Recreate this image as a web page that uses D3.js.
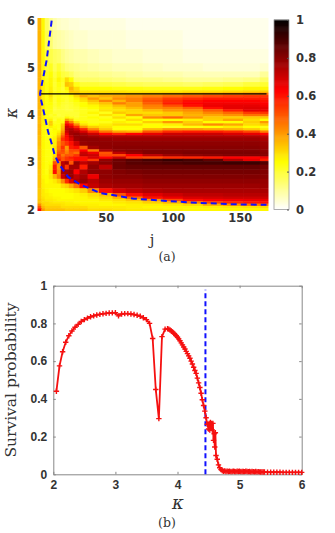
<!DOCTYPE html>
<html>
<head>
<meta charset="utf-8">
<script src="https://cdn.jsdelivr.net/npm/d3@7"></script>
<style>
  html, body { margin: 0; padding: 0; background: #fff; overflow: hidden; }
  svg { display: block; }
</style>
</head>
<body>
<script>
// heat map (a): column and row positions of the table below
var heatJ = [1, 3, 6, 9, 12, 15, 18, 21, 24, 28, 33, 40, 50, 60, 70, 85, 100, 115, 130, 145, 160, 170];
var heatKappa = [6.0, 5.6, 5.2, 5.0, 4.85, 4.75, 4.65, 4.55, 4.5, 4.45, 4.4, 4.35, 4.3, 4.25, 4.2, 4.15, 4.1, 4.05, 4.0,
  3.95, 3.9, 3.85, 3.8, 3.75, 3.7, 3.65, 3.6, 3.55, 3.5, 3.4, 3.3, 3.25, 3.2, 3.15, 3.1, 3.05, 3.0,
  2.9, 2.8, 2.7, 2.6, 2.5, 2.4, 2.3, 2.25, 2.2, 2.15, 2.1, 2.05, 2.0];
// one row per kappa
var heatValues = [
  [.36,.26,.16,.11,.08,.06,.05,.05,.04,.04,.03,.03,.03,.03,.02,.02,.02,.02,.02,.02,.02,.02],
  [.36,.26,.18,.14,.10,.09,.08,.07,.06,.05,.05,.04,.04,.04,.03,.03,.03,.02,.02,.02,.02,.02],
  [.36,.26,.20,.18,.16,.15,.12,.10,.09,.08,.08,.07,.06,.05,.05,.04,.04,.03,.03,.03,.03,.03],
  [.36,.26,.20,.22,.17,.20,.16,.13,.12,.11,.10,.09,.08,.07,.07,.06,.05,.05,.04,.04,.04,.05],
  [.36,.26,.22,.25,.19,.23,.19,.18,.16,.13,.12,.12,.11,.10,.09,.08,.08,.07,.07,.07,.07,.10],
  [.36,.26,.23,.26,.21,.26,.22,.30,.25,.16,.15,.15,.14,.13,.12,.12,.11,.10,.10,.11,.12,.15],
  [.36,.27,.24,.26,.20,.24,.21,.34,.32,.23,.20,.20,.19,.18,.17,.16,.16,.15,.16,.17,.19,.20],
  [.36,.27,.24,.27,.21,.23,.20,.26,.36,.30,.25,.25,.25,.24,.24,.23,.23,.23,.24,.25,.26,.26],
  [.36,.27,.24,.28,.22,.24,.22,.24,.34,.32,.29,.29,.29,.29,.28,.28,.28,.29,.29,.30,.31,.32],
  [.36,.27,.24,.29,.22,.24,.22,.23,.29,.34,.32,.33,.33,.33,.34,.35,.37,.39,.41,.43,.45,.46],
  [.36,.27,.24,.29,.22,.24,.22,.22,.25,.31,.38,.34,.37,.39,.41,.44,.47,.50,.52,.54,.55,.55],
  [.36,.27,.24,.27,.21,.24,.22,.21,.23,.27,.31,.40,.34,.42,.44,.49,.54,.56,.58,.58,.58,.58],
  [.36,.27,.24,.26,.20,.24,.22,.20,.22,.25,.29,.34,.43,.36,.44,.51,.56,.60,.62,.62,.62,.60],
  [.36,.27,.24,.25,.20,.23,.21,.20,.21,.23,.25,.30,.34,.44,.39,.49,.58,.62,.64,.64,.64,.62],
  [.36,.27,.24,.24,.20,.22,.20,.19,.20,.22,.25,.26,.30,.35,.39,.44,.51,.60,.65,.66,.66,.64],
  [.36,.27,.24,.24,.19,.21,.20,.19,.20,.21,.23,.25,.28,.31,.35,.42,.44,.49,.60,.66,.67,.66],
  [.36,.27,.24,.24,.19,.20,.20,.19,.19,.21,.22,.23,.29,.29,.31,.35,.40,.42,.49,.58,.66,.65],
  [.36,.27,.24,.23,.20,.20,.20,.20,.20,.20,.22,.26,.23,.33,.30,.30,.33,.38,.43,.47,.54,.55],
  [.36,.27,.24,.21,.22,.19,.20,.21,.20,.20,.23,.22,.29,.26,.38,.33,.33,.36,.38,.41,.46,.46],
  [.35,.27,.24,.23,.21,.21,.21,.26,.23,.21,.23,.25,.23,.30,.25,.42,.47,.40,.33,.32,.33,.33],
  [.35,.27,.24,.27,.20,.24,.22,.40,.33,.23,.23,.23,.25,.24,.30,.25,.25,.27,.32,.38,.30,.25],
  [.35,.27,.24,.32,.22,.24,.24,.55,.44,.30,.25,.23,.23,.27,.25,.32,.40,.32,.25,.25,.32,.40],
  [.36,.27,.24,.32,.24,.24,.32,.64,.58,.42,.29,.25,.27,.30,.30,.25,.27,.35,.42,.38,.30,.32],
  [.36,.26,.24,.27,.25,.24,.34,.70,.66,.56,.40,.32,.29,.25,.25,.25,.23,.24,.25,.28,.25,.23],
  [.36,.26,.24,.24,.26,.24,.36,.72,.74,.68,.56,.42,.33,.25,.25,.35,.40,.40,.38,.36,.33,.28],
  [.36,.26,.24,.24,.25,.27,.40,.70,.76,.74,.68,.56,.45,.38,.36,.50,.56,.58,.58,.56,.52,.44],
  [.36,.26,.24,.24,.25,.30,.44,.66,.76,.78,.75,.70,.62,.58,.62,.66,.70,.70,.70,.68,.66,.62],
  [.35,.26,.24,.24,.26,.34,.50,.62,.72,.78,.78,.76,.74,.74,.74,.74,.74,.74,.74,.74,.74,.72],
  [.35,.26,.24,.24,.27,.38,.55,.60,.68,.77,.79,.79,.78,.77,.77,.77,.77,.77,.77,.77,.77,.75],
  [.35,.26,.24,.24,.27,.42,.50,.55,.60,.70,.78,.79,.79,.79,.79,.79,.79,.79,.79,.79,.79,.77],
  [.34,.26,.24,.24,.29,.44,.55,.40,.58,.60,.50,.76,.79,.80,.80,.80,.80,.80,.80,.80,.80,.78],
  [.34,.26,.24,.24,.28,.47,.52,.42,.52,.52,.62,.45,.74,.79,.80,.81,.81,.81,.81,.81,.81,.79],
  [.34,.26,.24,.24,.27,.50,.50,.44,.50,.46,.70,.65,.50,.72,.78,.81,.81,.82,.82,.82,.82,.80],
  [.34,.26,.24,.24,.29,.55,.45,.50,.50,.55,.72,.70,.52,.52,.62,.72,.77,.79,.80,.81,.81,.80],
  [.34,.26,.24,.24,.32,.55,.50,.55,.58,.60,.60,.68,.62,.70,.54,.52,.56,.57,.59,.62,.62,.64],
  [.34,.26,.24,.24,.36,.60,.50,.55,.55,.60,.60,.54,.78,.84,.87,.90,.92,.90,.86,.74,.66,.58],
  [.34,.26,.24,.25,.50,.42,.72,.76,.50,.78,.72,.76,.80,.84,.87,.88,.89,.90,.90,.91,.91,.88],
  [.34,.26,.24,.27,.58,.40,.74,.55,.76,.76,.58,.79,.72,.84,.85,.85,.85,.85,.85,.85,.85,.83],
  [.34,.26,.24,.29,.60,.42,.75,.76,.78,.62,.74,.79,.79,.81,.82,.83,.83,.83,.83,.83,.83,.81],
  [.34,.26,.25,.28,.36,.45,.70,.76,.78,.72,.76,.65,.79,.80,.80,.81,.81,.81,.81,.81,.81,.80],
  [.34,.27,.25,.26,.28,.32,.42,.56,.68,.74,.78,.73,.77,.78,.78,.79,.79,.79,.79,.79,.79,.78],
  [.34,.27,.26,.26,.26,.26,.30,.32,.38,.46,.62,.71,.75,.76,.76,.77,.77,.77,.77,.77,.77,.77],
  [.33,.28,.26,.25,.25,.25,.25,.26,.27,.29,.32,.42,.60,.69,.72,.74,.75,.75,.75,.75,.75,.75],
  [.33,.28,.27,.26,.25,.25,.25,.25,.25,.26,.27,.30,.34,.50,.60,.67,.70,.72,.72,.73,.73,.73],
  [.33,.29,.27,.27,.26,.26,.25,.25,.25,.26,.26,.28,.30,.36,.46,.60,.65,.68,.69,.70,.70,.70],
  [.34,.30,.28,.28,.27,.26,.26,.26,.26,.26,.26,.26,.28,.30,.34,.40,.52,.60,.63,.64,.65,.65],
  [.34,.30,.30,.29,.28,.28,.28,.27,.27,.26,.26,.26,.26,.28,.29,.32,.36,.44,.52,.56,.59,.60],
  [.42,.32,.30,.30,.30,.30,.29,.28,.28,.28,.27,.27,.26,.26,.27,.27,.28,.30,.36,.40,.44,.46],
  [.50,.35,.32,.32,.32,.32,.30,.30,.30,.30,.30,.28,.28,.28,.27,.26,.26,.26,.27,.28,.29,.30],
  [.60,.40,.34,.34,.34,.34,.34,.32,.32,.32,.32,.30,.30,.29,.28,.28,.27,.26,.26,.26,.26,.26]
];

// dashed boundary and the kappa level marked in (a)
var boundaryJ = [9.7, 6, 3, 1, 2, 4.7, 7, 9.7, 12, 15, 22, 31, 46, 71, 96, 120, 145, 170];
var boundaryKappa = [6, 5.17, 4.74, 4.45, 4.3, 3.96, 3.65, 3.4, 3.15, 2.97, 2.69, 2.53, 2.35, 2.23, 2.18, 2.14, 2.11, 2.10];
var kappaCritical = 4.45;

var heatJTicks = [50, 100, 150];
var heatKappaTicks = [2, 3, 4, 5, 6];
var colorTicks = [0, 0.2, 0.4, 0.6, 0.8, 1];

// survival curve (b)
var survKappa = [2.05,2.10,2.15,2.20,2.25,2.30,2.35,2.40,2.45,2.50,2.55,2.60,2.65,2.70,2.75,2.80,2.85,2.90,2.95,3.00,
  3.05,3.10,3.15,3.20,3.25,3.30,3.35,3.40,3.45,3.50,3.55,3.60,3.65,3.70,3.75,3.80,3.84,
  3.86,3.88,3.90,3.92,3.94,3.96,3.98,4.00,4.02,4.04,4.06,4.08,4.10,4.12,4.14,4.16,4.18,4.20,4.22,4.24,4.26,4.28,4.30,
  4.32,4.34,4.36,4.38,4.40,4.42,4.44,4.46,4.48,4.50,4.51,4.52,4.53,4.54,4.55,4.56,4.57,4.58,4.59,4.60,4.61,4.62,4.64,4.66,4.68,4.70,4.72,4.74,4.76,4.78,4.80,
  4.82,4.84,4.86,4.88,4.90,4.92,4.94,4.96,4.98,5.00,5.02,5.04,5.06,5.08,5.10,5.12,5.14,5.16,5.18,5.20,5.22,5.24,5.26,5.28,5.30,5.32,5.34,5.36,5.38,5.40,
  5.45,5.50,5.55,5.60,5.65,5.70,5.75,5.80,5.85,5.90,5.95,6.00];
var survProb = [.44,.575,.65,.70,.735,.76,.78,.795,.81,.82,.828,.835,.84,.845,.848,.851,.853,.855,.856,.857,
  .84,.85,.852,.852,.85,.847,.843,.838,.83,.82,.80,.72,.45,.295,.73,.77,.772,
  .77,.765,.76,.755,.748,.742,.735,.727,.718,.708,.697,.686,.675,.664,.652,.64,.628,.615,.60,.585,.568,.55,.535,
  .51,.485,.46,.43,.395,.365,.335,.30,.265,.24,.27,.235,.275,.245,.27,.235,.27,.18,.215,.145,.22,.10,.08,.05,.035,.025,.02,.016,.018,.015,.017,
  .015,.016,.014,.015,.017,.015,.014,.016,.015,.016,.014,.015,.015,.014,.016,.015,.014,.015,.013,.015,.014,.013,.015,.013,.014,.013,.012,.013,.012,.012,
  .011,.011,.011,.011,.011,.010,.010,.010,.010,.010,.010,.010];
var survXTicks = [2, 3, 4, 5, 6];
var survYTicks = [0, 0.2, 0.4, 0.6, 0.8, 1];

var w = 335, h = 533;
var svg = d3.select("body").append("svg").attr("width", w).attr("height", h);
var defs = svg.append("defs");

// reversed hot colormap
var heatColor = d3.scaleLinear().domain([0, 0.25, 0.625, 1]).range(["#ffffff", "#ffff00", "#ff0000", "#000000"]);

var labelColor = "#333";
var tickFont = "DejaVu Sans, sans-serif";
var serifFont = "DejaVu Serif, serif";
var fmt = function(d) { return d; };

// ---- panel (a) ----
var jScale = d3.scaleLinear().domain([1, 170]).range([40, 266.5]);
var kScale = d3.scaleLinear().domain([2, 6]).range([209.5, 20.7]);
var imgLeft = 37.5, imgRight = 268.5, imgTop = 18, imgBottom = 211;

defs.append("clipPath").attr("id", "heat-clip").append("rect")
  .attr("x", imgLeft).attr("y", imgTop).attr("width", imgRight - imgLeft).attr("height", imgBottom - imgTop);
defs.append("filter").attr("id", "soft").attr("x", "-5%").attr("y", "-5%").attr("width", "110%").attr("height", "110%")
  .append("feGaussianBlur").attr("stdDeviation", 0.7);

// cell edges sit halfway between neighbouring table positions, outer cells run past the clip
var xEdges = heatJ.map(function(d, i) {
  return i == 0 ? imgLeft - 6 : (jScale(heatJ[i - 1]) + jScale(d)) / 2;
}).concat([imgRight + 6]);
var yEdges = heatKappa.map(function(d, i) {
  return i == 0 ? imgTop - 6 : (kScale(heatKappa[i - 1]) + kScale(d)) / 2;
}).concat([imgBottom + 6]);

var cells = [];
heatValues.forEach(function(row, r) {
  row.forEach(function(v, c) { cells.push({r: r, c: c, v: v}); });
});

svg.append("g").attr("clip-path", "url(#heat-clip)")
  .append("g").attr("filter", "url(#soft)")
  .selectAll("rect").data(cells).enter().append("rect")
  .attr("x", function(d) { return xEdges[d.c]; })
  .attr("y", function(d) { return yEdges[d.r]; })
  .attr("width", function(d) { return xEdges[d.c + 1] - xEdges[d.c] + 0.5; })
  .attr("height", function(d) { return yEdges[d.r + 1] - yEdges[d.r] + 0.5; })
  .attr("fill", function(d) { return heatColor(d.v); });

// black level line and blue boundary
svg.append("line")
  .attr("x1", jScale(1)).attr("x2", jScale(170))
  .attr("y1", kScale(kappaCritical)).attr("y2", kScale(kappaCritical))
  .attr("stroke", "#000").attr("stroke-width", 1.3);

var boundaryLine = d3.line()
  .x(function(d, i) { return jScale(boundaryJ[i]); })
  .y(function(d) { return kScale(d); });
svg.append("path").attr("d", boundaryLine(boundaryKappa))
  .attr("fill", "none").attr("stroke", "#1010ff").attr("stroke-width", 2).attr("stroke-dasharray", "6,4");

var jAxis = d3.axisBottom(jScale).tickValues(heatJTicks).tickSize(0).tickPadding(0);
var kAxis = d3.axisLeft(kScale).tickValues(heatKappaTicks).tickSize(0).tickPadding(0).tickFormat(fmt);

var styleAxis = function(g, font, size) {
  g.select(".domain").remove();
  g.selectAll("text").attr("font-family", font).attr("font-weight", "bold")
    .attr("font-size", size).attr("fill", labelColor);
};

svg.append("g").attr("transform", "translate(0,214)").call(jAxis).call(styleAxis, tickFont, 11.5);
svg.append("g").attr("transform", "translate(35,0)").call(kAxis).call(styleAxis, tickFont, 11.5);

// colorbar
var cbX = 274, cbW = 15;
var cbScale = d3.scaleLinear().domain([0, 1]).range([209.5, 20]);
svg.append("g").selectAll("rect").data(d3.range(0, 1, 0.005)).enter().append("rect")
  .attr("x", cbX).attr("width", cbW)
  .attr("y", function(d) { return cbScale(d + 0.005) - 0.3; })
  .attr("height", (cbScale(0) - cbScale(0.005)) + 0.6)
  .attr("fill", function(d) { return heatColor(d); });
svg.append("rect").attr("x", cbX).attr("y", 20).attr("width", cbW).attr("height", 189.5)
  .attr("fill", "none").attr("stroke", "#999").attr("stroke-width", 0.8);

var cbAxis = d3.axisRight(cbScale).tickValues(colorTicks).tickSize(-2).tickPadding(7).tickFormat(fmt);
svg.append("g").attr("transform", "translate(" + (cbX + cbW) + ",0)").call(cbAxis)
  .call(styleAxis, tickFont, 11.5)
  .call(function(g) { g.selectAll("line").attr("stroke", "#555"); });

// labels of (a)
svg.append("text").attr("transform", "translate(17,113) rotate(-90)").attr("text-anchor", "middle")
  .attr("font-family", serifFont).attr("font-style", "italic").attr("font-size", 16).attr("fill", labelColor).text("κ");
svg.append("text").attr("x", 152).attr("y", 245).attr("text-anchor", "middle")
  .attr("font-family", serifFont).attr("font-size", 15).attr("fill", labelColor).text("j");
svg.append("text").attr("x", 167).attr("y", 261).attr("text-anchor", "middle")
  .attr("font-family", serifFont).attr("font-size", 12.5).attr("fill", labelColor).text("(a)");

// ---- panel (b) ----
var xScale = d3.scaleLinear().domain([2, 6]).range([53.3, 301.7]);
var yScale = d3.scaleLinear().domain([0, 1]).range([474.3, 285.7]);
var axisGrey = "#888";

var addFrameAxis = function(axis, tx, ty, labels) {
  var g = svg.append("g").attr("transform", "translate(" + tx + "," + ty + ")").call(axis);
  g.select(".domain").attr("stroke", axisGrey).attr("stroke-width", 1);
  g.selectAll(".tick line").attr("stroke", axisGrey);
  if (labels) {
    g.selectAll("text").attr("font-family", "Liberation Sans, sans-serif").attr("font-weight", "bold")
      .attr("font-size", 12).attr("fill", labelColor);
  } else {
    g.selectAll("text").remove();
  }
};

addFrameAxis(d3.axisBottom(xScale).tickValues(survXTicks).tickSize(-2.5).tickSizeOuter(0).tickPadding(6).tickFormat(fmt), 0, 474.3, true);
addFrameAxis(d3.axisTop(xScale).tickValues(survXTicks).tickSize(-2.5).tickSizeOuter(0), 0, 285.7, false);
addFrameAxis(d3.axisLeft(yScale).tickValues(survYTicks).tickSize(-2.5).tickSizeOuter(0).tickPadding(6).tickFormat(fmt), 53.3, 0, true);
addFrameAxis(d3.axisRight(yScale).tickValues(survYTicks).tickSize(-2.5).tickSizeOuter(0), 301.7, 0, false);

// blue marker at the critical kappa
svg.append("line")
  .attr("x1", xScale(kappaCritical)).attr("x2", xScale(kappaCritical))
  .attr("y1", yScale(0)).attr("y2", yScale(1) + 4)
  .attr("stroke", "#1010ff").attr("stroke-width", 2).attr("stroke-dasharray", "5,3");

var survLine = d3.line()
  .x(function(d, i) { return xScale(survKappa[i]); })
  .y(function(d) { return yScale(d); });
svg.append("path").attr("d", survLine(survProb))
  .attr("fill", "none").attr("stroke", "#f51010").attr("stroke-width", 1.8);

// plus markers
var armLen = 2.7;
svg.append("g").selectAll("path").data(survProb).enter().append("path")
  .attr("d", "M" + (-armLen) + ",0H" + armLen + "M0," + (-armLen) + "V" + armLen)
  .attr("transform", function(d, i) { return "translate(" + xScale(survKappa[i]) + "," + yScale(d) + ")"; })
  .attr("fill", "none").attr("stroke", "#f51010").attr("stroke-width", 1.4);

// labels of (b)
svg.append("text").attr("transform", "translate(16,380) rotate(-90)").attr("text-anchor", "middle")
  .attr("font-family", serifFont).attr("font-size", 15.5).attr("fill", labelColor).text("Survival probability");
svg.append("text").attr("x", 178).attr("y", 509).attr("text-anchor", "middle")
  .attr("font-family", serifFont).attr("font-style", "italic").attr("font-size", 18).attr("fill", labelColor).text("κ");
svg.append("text").attr("x", 167).attr("y", 527).attr("text-anchor", "middle")
  .attr("font-family", serifFont).attr("font-size", 12.5).attr("fill", labelColor).text("(b)");
</script>
</body>
</html>
